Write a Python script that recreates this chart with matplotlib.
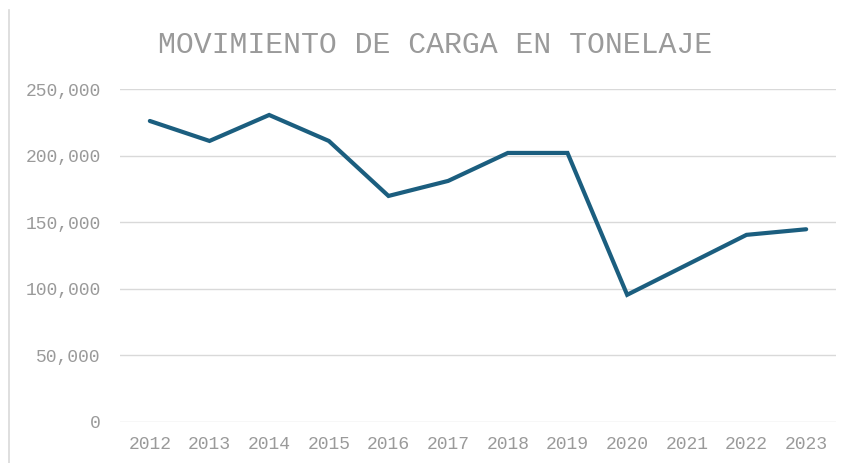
import matplotlib
matplotlib.use("Agg")
import matplotlib.pyplot as plt
from matplotlib.lines import Line2D
from matplotlib.ticker import FuncFormatter, MultipleLocator

years = ["2012", "2013", "2014", "2015", "2016", "2017", "2018", "2019", "2020", "2021", "2022", "2023"]
tonnage = [226000, 211000, 230500, 211000, 169700, 181000, 202000, 202000, 95500, 118000, 140500, 144700]
title = "MOVIMIENTO DE CARGA EN TONELAJE"

plt.rcParams['font.family'] = ['Liberation Mono', 'DejaVu Sans Mono']
text_color = "#9a9a9a"

fig = plt.figure(figsize=(8.49, 4.63), dpi=100)
ax = fig.add_axes([120/849, 1-422/463, (836-120)/849, (422-89)/463])

x = list(range(len(years)))
ax.plot(x, tonnage, color="#1b5e7f", linewidth=3, solid_capstyle="round", solid_joinstyle="miter", zorder=3)

ax.set_xlim(-0.5, len(years)-0.5)
ax.set_ylim(0, 250000)
ax.yaxis.set_major_locator(MultipleLocator(50000))
ax.yaxis.set_major_formatter(FuncFormatter(lambda v, p: f"{int(v):,}"))
ax.set_xticks(x)
ax.set_xticklabels(years)
ax.grid(axis="y", color="#d9d9d9", linewidth=1)
ax.set_axisbelow(True)
for s in ax.spines.values():
    s.set_visible(False)
ax.tick_params(axis="both", length=0, labelsize=13, colors=text_color)
ax.tick_params(axis="x", pad=10)
ax.tick_params(axis="y", pad=14)

fig.text(435/849, 1-45/463, title, ha="center", va="center", fontsize=21.5, color=text_color)
fig.add_artist(Line2D([9/849, 9/849], [0, 1-10/463], color="#d9d9d9", linewidth=1.2))

fig.savefig("out.png", dpi=100)
